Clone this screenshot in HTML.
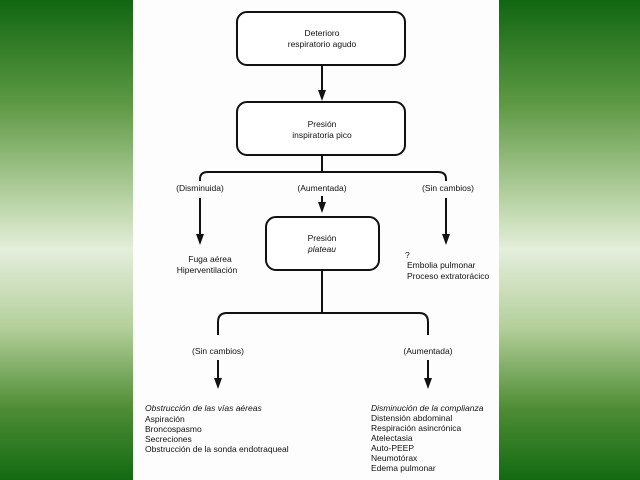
<!DOCTYPE html>
<html><head><style>
body{margin:0;width:640px;height:480px;overflow:hidden;background:linear-gradient(180deg,#116611 0%,#5f9a45 22%,#c7dcb4 45%,#e4eedc 52%,#b5d09c 68%,#4f8d35 85%,#126a12 100%);font-family:"Liberation Sans",sans-serif;}
#p{position:absolute;left:133px;top:0;width:366px;height:480px;background:#fdfdfd;}
svg{position:absolute;left:0;top:0}
text{font-size:8.5px;fill:#111;font-family:"Liberation Sans",sans-serif}
</style></head><body><div id="p"></div>
<svg width="640" height="480">
<g fill="none" stroke="#111" stroke-width="2">
<rect x="237" y="12" width="168" height="53" rx="10" fill="#fff"/>
<rect x="237" y="102" width="168" height="53" rx="10" fill="#fff"/>
<rect x="266" y="217" width="113" height="53" rx="10" fill="#fff"/>
<line x1="322" y1="65" x2="322" y2="92"/>
<path d="M200,181 V179 Q200,172 208,172 H438 Q446,172 446,179 V181"/>
<line x1="322" y1="155" x2="322" y2="172"/>
<line x1="200" y1="198" x2="200" y2="236"/>
<line x1="322" y1="196" x2="322" y2="204"/>
<line x1="446" y1="198" x2="446" y2="236"/>
<line x1="322" y1="270" x2="322" y2="313"/>
<path d="M218,335 V322 Q218,313 227,313 H419 Q428,313 428,322 V335"/>
<line x1="218" y1="360" x2="218" y2="380"/>
<line x1="428" y1="360" x2="428" y2="380"/>
</g>
<g fill="#111">
<path d="M318,90 L326,90 L322,101z"/>
<path d="M196,234 L204,234 L200,245z"/>
<path d="M318,202 L326,202 L322,213z"/>
<path d="M442,234 L450,234 L446,245z"/>
<path d="M214,378 L222,378 L218,389z"/>
<path d="M424,378 L432,378 L428,389z"/>
</g>
<g text-anchor="middle">
<text x="322" y="36">Deterioro</text><text x="322" y="47">respiratorio agudo</text>
<text x="322" y="127">Presión</text><text x="322" y="138">inspiratoria pico</text>
<text x="322" y="241">Presión</text><text x="322" y="252" font-style="italic">plateau</text>
<text x="200" y="191">(Disminuida)</text><text x="322" y="191">(Aumentada)</text><text x="448" y="191">(Sin cambios)</text>
<text x="218" y="354">(Sin cambios)</text><text x="428" y="354">(Aumentada)</text>
<text x="210" y="262">Fuga aérea</text><text x="207" y="273">Hiperventilación</text>
</g>
<text x="405" y="258">?</text><text x="407" y="268">Embolia pulmonar</text><text x="407" y="279">Proceso extratorácico</text>
<text x="145" y="411" font-style="italic">Obstrucción de las vías aéreas</text>
<text x="145" y="422">Aspiración</text><text x="145" y="432">Broncospasmo</text><text x="145" y="442">Secreciones</text><text x="145" y="452">Obstrucción de la sonda endotraqueal</text>
<text x="371" y="411" font-style="italic">Disminución de la complianza</text>
<text x="371" y="421">Distensión abdominal</text><text x="371" y="431">Respiración asincrónica</text><text x="371" y="441">Atelectasia</text><text x="371" y="451">Auto-PEEP</text><text x="371" y="461">Neumotórax</text><text x="371" y="471">Edema pulmonar</text>
</svg></body></html>
